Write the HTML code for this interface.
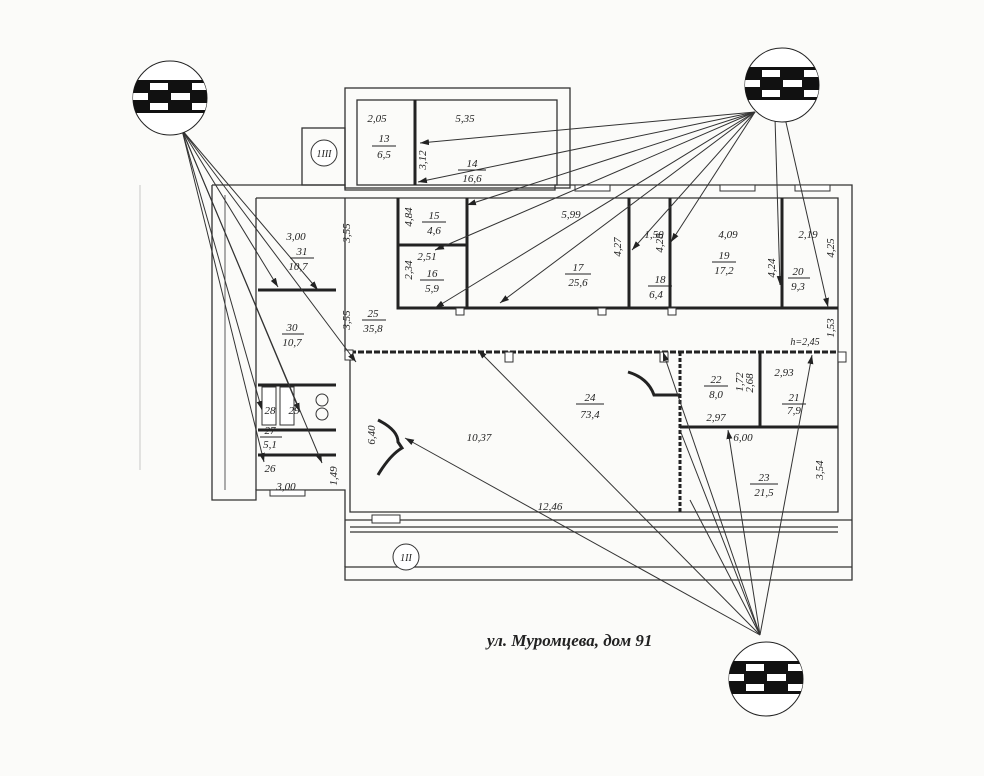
<!DOCTYPE html>
<html><head><meta charset="utf-8"><style>
html,body{margin:0;padding:0;background:#fbfbf9;}
svg{display:block}
text{font-family:"Liberation Serif",serif;font-style:italic;fill:#222}
</style></head><body>
<svg width="984" height="776" viewBox="0 0 984 776" xmlns="http://www.w3.org/2000/svg">
<defs>
<marker id="a" markerWidth="10" markerHeight="8" refX="9" refY="4" orient="auto" markerUnits="userSpaceOnUse"><path d="M0,1 L9,4 L0,7 z" fill="#222"/></marker>
<g id="band">
<rect x="-40" y="0" width="80" height="33" fill="#111"/>
<rect x="-20" y="3" width="18" height="7" fill="#fff"/><rect x="22" y="3" width="18" height="7" fill="#fff"/>
<rect x="-40" y="13" width="18" height="7" fill="#fff"/><rect x="1" y="13" width="19" height="7" fill="#fff"/>
<rect x="-20" y="23" width="18" height="7" fill="#fff"/><rect x="22" y="23" width="18" height="7" fill="#fff"/>
</g>
<clipPath id="cc"><circle cx="0" cy="18" r="37"/></clipPath>
</defs>
<g fill="none" stroke="#333" stroke-width="1.3">
<path d="M212,185 H345 V190 H555 V185 H852 V567 H345 V580 H852 V520"/>
<path d="M212,185 V500 H256 V490 H345 V567"/>
<rect x="345" y="88" width="225" height="100"/>
<rect x="357" y="100" width="200" height="85"/>
<rect x="302" y="128" width="43" height="57"/>
<path d="M256,198 H838 V512 H350 V352"/>
<path d="M256,198 V490"/>
<path d="M345,198 V352"/>
<path d="M345,520 H852 M350,527 H838 M350,532 H838"/>
<path d="M225,195 V490" stroke-width="0.8"/>
<path d="M140,185 V470" stroke="#bbb" stroke-width="0.8"/>
</g>
<g stroke="#222" stroke-width="3" fill="none">
<path d="M415,100 V185"/>
<path d="M398,198 V308 H838"/>
<path d="M398,245 H467 M467,198 V308 M629,198 V308 M670,198 V308 M782,198 V308"/>
<path d="M258,290 H336 M258,385 H336 M258,430 H336 M258,455 H336"/>
<path d="M680,352 V512" stroke-dasharray="4,2"/>
<path d="M350,352 H838" stroke-dasharray="6,2"/>
<path d="M680,427 H838 M760,352 V427"/>
</g>
<g fill="#fff" stroke="#333" stroke-width="1">
<rect x="262" y="387" width="14" height="38"/><rect x="280" y="387" width="14" height="38"/>
<rect x="345" y="350" width="8" height="10"/><rect x="505" y="352" width="8" height="10"/><rect x="660" y="352" width="8" height="10"/><rect x="838" y="352" width="8" height="10"/>
<rect x="456" y="308" width="8" height="7"/><rect x="598" y="308" width="8" height="7"/><rect x="668" y="308" width="8" height="7"/>
<rect x="575" y="185" width="35" height="6"/><rect x="720" y="185" width="35" height="6"/><rect x="795" y="185" width="35" height="6"/>
<rect x="270" y="490" width="35" height="6"/><rect x="372" y="515" width="28" height="8"/>
</g>
<circle cx="322" cy="400" r="6" fill="none" stroke="#333"/><circle cx="322" cy="414" r="6" fill="none" stroke="#333"/>
<circle cx="406" cy="557" r="13" fill="#fff" stroke="#333"/><circle cx="324" cy="153" r="13" fill="#fff" stroke="#333"/>
<path d="M378,420 Q398,430 398,442 L402,448 Q390,455 378,475" fill="none" stroke="#222" stroke-width="3"/>
<path d="M628,372 Q648,378 654,395 H680" fill="none" stroke="#222" stroke-width="3"/>
<g stroke="#333" stroke-width="1" marker-end="url(#a)">
<line x1="182" y1="130" x2="278" y2="287"/><line x1="182" y1="130" x2="318" y2="290"/><line x1="182" y1="130" x2="356" y2="362"/>
<line x1="182" y1="130" x2="264" y2="462"/><line x1="182" y1="130" x2="262" y2="410"/><line x1="182" y1="130" x2="300" y2="412"/><line x1="182" y1="130" x2="322" y2="463"/>
<line x1="755" y1="112" x2="420" y2="143"/><line x1="755" y1="112" x2="418" y2="182"/><line x1="755" y1="112" x2="467" y2="205"/>
<line x1="755" y1="112" x2="435" y2="308"/><line x1="755" y1="112" x2="500" y2="303"/><line x1="755" y1="112" x2="435" y2="250"/>
<line x1="755" y1="112" x2="632" y2="250"/><line x1="755" y1="112" x2="671" y2="242"/><line x1="775" y1="118" x2="780" y2="285"/><line x1="785" y1="118" x2="828" y2="307"/>
<line x1="760" y1="635" x2="478" y2="350"/><line x1="760" y1="635" x2="405" y2="438"/><line x1="760" y1="635" x2="663" y2="352"/>
<line x1="760" y1="635" x2="728" y2="430"/><line x1="760" y1="635" x2="812" y2="355"/>
</g>
<g stroke="#333" stroke-width="1"><line x1="760" y1="635" x2="680" y2="430"/><line x1="760" y1="635" x2="690" y2="500"/></g>
<g transform="translate(170,80)"><circle cx="0" cy="18" r="37" fill="#fff" stroke="#222"/><use href="#band" clip-path="url(#cc)"/></g>
<g transform="translate(782,67)"><circle cx="0" cy="18" r="37" fill="#fff" stroke="#222"/><use href="#band" clip-path="url(#cc)"/></g>
<g transform="translate(766,661)"><circle cx="0" cy="18" r="37" fill="#fff" stroke="#222"/><use href="#band" clip-path="url(#cc)"/></g>
<g stroke="#222" stroke-width="1">
<path d="M372,146 H396 M458,170 H486 M290,258 H314 M282,334 H304 M422,222 H446 M420,280 H444 M565,274 H591 M648,286 H672 M712,262 H736 M788,278 H810 M362,320 H386 M576,404 H604 M704,386 H728 M782,404 H806 M750,484 H778 M260,437 H282"/>
</g>
<g font-size="11" text-anchor="middle">
<text x="377" y="122">2,05</text><text x="384" y="142">13</text><text x="384" y="158">6,5</text>
<text x="465" y="122">5,35</text><text x="472" y="167">14</text><text x="472" y="182">16,6</text>
<text x="296" y="240">3,00</text><text x="302" y="255">31</text><text x="298" y="270">10,7</text>
<text x="292" y="331">30</text><text x="292" y="346">10,7</text>
<text x="434" y="219">15</text><text x="434" y="234">4,6</text>
<text x="427" y="260">2,51</text><text x="432" y="277">16</text><text x="432" y="292">5,9</text>
<text x="571" y="218">5,99</text><text x="578" y="271">17</text><text x="578" y="286">25,6</text>
<text x="654" y="238">1,50</text><text x="660" y="283">18</text><text x="656" y="298">6,4</text>
<text x="728" y="238">4,09</text><text x="724" y="259">19</text><text x="724" y="274">17,2</text>
<text x="808" y="238">2,19</text><text x="798" y="275">20</text><text x="798" y="290">9,3</text>
<text x="373" y="317">25</text><text x="373" y="332">35,8</text>
<text x="590" y="401">24</text><text x="590" y="418">73,4</text>
<text x="479" y="441">10,37</text><text x="550" y="510">12,46</text>
<text x="716" y="383">22</text><text x="716" y="398">8,0</text><text x="716" y="421">2,97</text>
<text x="784" y="376">2,93</text><text x="794" y="401">21</text><text x="794" y="414">7,9</text>
<text x="743" y="441">6,00</text><text x="764" y="481">23</text><text x="764" y="496">21,5</text>
<text x="270" y="414">28</text><text x="294" y="414">29</text><text x="270" y="434">27</text><text x="270" y="448">5,1</text>
<text x="270" y="472">26</text><text x="286" y="490">3,00</text>
<text x="805" y="345" font-size="10">h=2,45</text>
<text x="324" y="157" font-size="10" font-style="normal">1III</text>
<text x="406" y="561" font-size="10" font-style="normal">1II</text>
</g>
<g font-size="11" text-anchor="middle">
<text transform="translate(350,233) rotate(-90)">3,55</text><text transform="translate(350,320) rotate(-90)">3,55</text>
<text transform="translate(412,217) rotate(-90)">4,84</text><text transform="translate(412,270) rotate(-90)">2,34</text>
<text transform="translate(426,160) rotate(-90)">3,12</text>
<text transform="translate(621,247) rotate(-90)">4,27</text><text transform="translate(663,243) rotate(-90)">4,28</text>
<text transform="translate(775,268) rotate(-90)">4,24</text><text transform="translate(834,248) rotate(-90)">4,25</text>
<text transform="translate(834,328) rotate(-90)">1,53</text><text transform="translate(375,435) rotate(-90)">6,40</text>
<text transform="translate(753,383) rotate(-90)">2,68</text><text transform="translate(743,382) rotate(-90)">1,72</text>
<text transform="translate(823,470) rotate(-90)">3,54</text><text transform="translate(337,476) rotate(-90)">1,49</text>
</g>
<text x="487" y="646" font-size="17" font-weight="bold" font-style="normal" style="font-family:'Liberation Serif',serif">ул. Муромцева, дом 91</text>
</svg>
</body></html>
